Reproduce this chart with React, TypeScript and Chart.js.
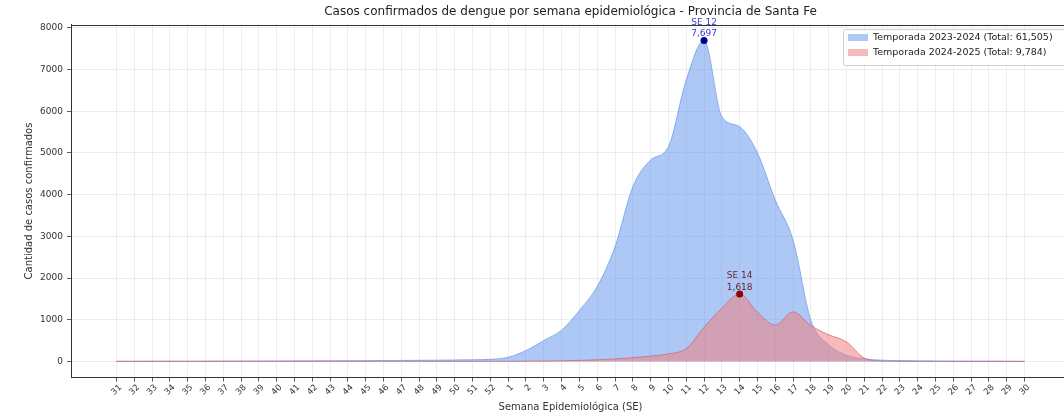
import React, { useEffect, useRef } from "react";
import { Chart, registerables } from "chart.js";

Chart.register(...registerables);

const weekLabels = [
  "31", "32", "33", "34", "35", "36", "37", "38", "39", "40", "41", "42", "43", "44", "45", "46", "47", "48", "49", "50", "51", "52",
  "1", "2", "3", "4", "5", "6", "7", "8", "9", "10", "11", "12", "13", "14", "15", "16", "17", "18", "19", "20",
  "21", "22", "23", "24", "25", "26", "27", "28", "29", "30",
];

const season2023_2024 = [
  5, 4, 5, 6, 5, 7, 8, 9, 10, 11, 12, 14, 15, 17, 19, 21, 24, 27, 30, 35, 40, 50,
  100, 260, 500, 750, 1225, 1800, 2750, 4190, 4830, 5150, 6750, 7697, 5870, 5630, 5000, 3870, 2910, 985, 400, 150,
  60, 30, 20, 15, 12, 10, 8, 8, 6, 5,
];

const season2024_2025 = [
  2, 2, 3, 3, 2, 3, 4, 3, 4, 4, 5, 4, 5, 4, 5, 4, 3, 4, 4, 3, 4, 5,
  5, 8, 10, 15, 25, 40, 60, 90, 130, 180, 310, 820, 1280, 1618, 1180, 870, 1190, 860, 640, 470,
  80, 10, 3, 0, 0, 0, 0, 0, 0, 0,
];

const seriesLabels = [
  "Temporada 2023-2024 (Total: 61,505)",
  "Temporada 2024-2025 (Total: 9,784)",
];

const yTickValues = [0, 1000, 2000, 3000, 4000, 5000, 6000, 7000, 8000];

const chartTitle = "Casos confirmados de dengue por semana epidemiológica - Provincia de Santa Fe";
const xAxisTitle = "Semana Epidemiológica (SE)";
const yAxisTitle = "Cantidad de casos confirmados";
const peakPrefix = "SE";

const FONT = "'DejaVu Sans', sans-serif";
const fills = ["rgba(100,149,237,0.52)", "rgba(240,128,128,0.55)"];
const edges = ["rgba(100,149,237,0.7)", "rgba(200,100,115,0.7)"];
const peakDot = ["#00008b", "#8b0000"];
const peakText = ["#3a3ad6", "#6a2232"];
const seriesData = [season2023_2024, season2024_2025];

function peakIndex(arr: number[]) {
  let m = 0;
  arr.forEach((v, i) => {
    if (v > arr[m]) m = i;
  });
  return m;
}

const overlay = {
  id: "overlay",
  afterDraw(chart: any) {
    const { ctx, chartArea, scales } = chart;
    ctx.save();
    // title centered over the axes
    ctx.font = `12px ${FONT}`;
    ctx.fillStyle = "#222";
    ctx.textAlign = "center";
    ctx.textBaseline = "middle";
    ctx.fillText(chartTitle, (chartArea.left + chartArea.right) / 2, 12);

    // top spine
    ctx.strokeStyle = "#333";
    ctx.lineWidth = 1;
    ctx.beginPath();
    ctx.moveTo(chartArea.left, Math.round(chartArea.top) + 0.5);
    ctx.lineTo(chartArea.right, Math.round(chartArea.top) + 0.5);
    ctx.stroke();

    // peak annotations
    seriesData.forEach((series, di) => {
      const pi = peakIndex(series);
      const px = scales.x.getPixelForValue(pi);
      const py = scales.y.getPixelForValue(series[pi]);
      ctx.font = `9px ${FONT}`;
      ctx.fillStyle = peakText[di];
      ctx.textAlign = "center";
      ctx.textBaseline = "middle";
      ctx.fillText(`${peakPrefix} ${weekLabels[pi]}`, px, py - 18);
      ctx.fillText(series[pi].toLocaleString("en-US"), px, py - 6.5);
    });

    // legend
    const lx = chartArea.right - 227;
    const ly = chartArea.top + 4.5;
    const lw = 224;
    const lh = 36;
    ctx.fillStyle = "rgba(255,255,255,0.85)";
    ctx.strokeStyle = "#d0d0d0";
    ctx.lineWidth = 1;
    ctx.beginPath();
    (ctx as any).roundRect(lx + 0.5, ly + 0.5, lw, lh, 2);
    ctx.fill();
    ctx.stroke();
    seriesLabels.forEach((label, i) => {
      const cy = ly + 8.5 + i * 15;
      ctx.fillStyle = fills[i];
      ctx.fillRect(lx + 5, cy - 3.5, 20, 7);
      ctx.font = `9.5px ${FONT}`;
      ctx.fillStyle = "#222";
      ctx.textAlign = "left";
      ctx.textBaseline = "middle";
      ctx.fillText(label, lx + 30, cy);
    });
    ctx.restore();
  },
};

export default function App() {
  const canvasRef = useRef<HTMLCanvasElement | null>(null);

  useEffect(() => {
    if (!canvasRef.current) return;
    const chart = new Chart(canvasRef.current, {
      type: "line",
      data: {
        datasets: seriesData.map((series, di) => ({
          label: seriesLabels[di],
          data: series.map((v, i) => ({ x: i, y: v })),
          fill: "origin",
          backgroundColor: fills[di],
          borderColor: edges[di],
          borderWidth: 1,
          cubicInterpolationMode: "monotone" as const,
          order: di === 0 ? 2 : 1,
          pointRadius: (c: any) => (c.dataIndex === peakIndex(series) ? 3.5 : 0),
          pointHoverRadius: 0,
          pointBackgroundColor: peakDot[di],
          pointBorderColor: peakDot[di],
          pointBorderWidth: 0,
        })),
      },
      options: {
        responsive: false,
        animation: false,
        devicePixelRatio: 1,
        layout: { padding: { left: 0, right: 10, top: 24.5, bottom: 0 } },
        plugins: {
          legend: { display: false },
          tooltip: { enabled: false },
          title: { display: false },
        },
        scales: {
          x: {
            type: "linear",
            min: -2.55,
            max: weekLabels.length - 1 + 2.55,
            afterFit: (s: any) => {
              s.height = 35.5;
            },
            afterBuildTicks: (axis: any) => {
              axis.ticks = weekLabels.map((_, i) => ({ value: i }));
            },
            ticks: {
              autoSkip: false,
              maxRotation: 45,
              minRotation: 45,
              padding: 1,
              labelOffset: 4,
              color: "#333",
              font: { family: FONT, size: 8.5 },
              callback: (v: any) => weekLabels[v] ?? "",
            },
            grid: {
              color: "#e8e8e8",
              lineWidth: 0.8,
              tickColor: "#333",
              tickLength: 4,
            },
            border: { color: "#333", width: 1 },
            title: {
              display: true,
              text: xAxisTitle,
              color: "#333",
              font: { family: FONT, size: 10 },
              padding: { top: 0, bottom: 0 },
            },
          },
          y: {
            type: "linear",
            min: -385,
            max: 8082,
            afterFit: (s: any) => {
              s.width = 71;
            },
            afterBuildTicks: (axis: any) => {
              axis.ticks = yTickValues.map((v) => ({ value: v }));
            },
            ticks: {
              padding: 4,
              color: "#333",
              font: { family: FONT, size: 9 },
              callback: (v: any) => String(v),
            },
            grid: {
              color: "#e8e8e8",
              lineWidth: 0.8,
              tickColor: "#333",
              tickLength: 4,
            },
            border: { color: "#333", width: 1 },
            title: {
              display: true,
              text: yAxisTitle,
              color: "#333",
              font: { family: FONT, size: 10 },
              padding: { top: 23, bottom: 0 },
            },
          },
        },
      },
      plugins: [overlay],
    });
    return () => chart.destroy();
  }, []);

  return (
    <div
      style={{
        position: "fixed",
        left: 0,
        top: 0,
        width: 1064,
        height: 413,
        overflow: "hidden",
        background: "#fff",
      }}
    >
      <canvas ref={canvasRef} width={1080} height={413} style={{ display: "block" }} />
    </div>
  );
}
